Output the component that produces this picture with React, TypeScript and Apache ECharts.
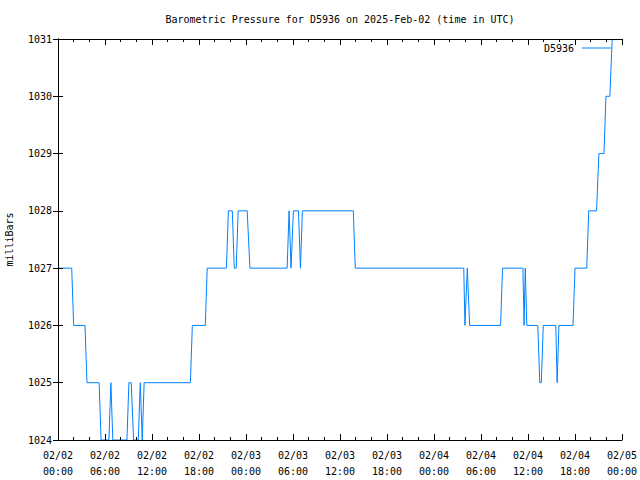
import React, { useEffect, useRef } from "react";
import * as echarts from "echarts";

// Hours since 2025-02-02 00:00 UTC
const hours = [
  0, 1.75, 2.0, 3.45, 3.7, 5.25, 5.5, 6.5, 6.75, 7.0, 8.8, 9.05, 9.35, 9.65,
  10.25, 10.5, 10.75, 11.0, 16.9, 17.15, 18.8, 19.05, 21.5, 21.75, 22.25, 22.5,
  22.75, 23.0, 24.15, 24.5, 29.25, 29.5, 29.75, 30.05, 30.7, 30.95, 31.2, 37.7,
  37.95, 51.8, 51.95, 52.25, 52.55, 56.5, 56.75, 59.35, 59.5, 59.65, 59.85,
  61.25, 61.5, 61.7, 61.95, 63.55, 63.72, 63.95, 65.75, 66.0, 67.5, 67.75,
  68.75, 69.05, 69.7, 69.95, 70.45, 70.75,
];
const pressure = [
  1027, 1027, 1026, 1026, 1025, 1025, 1024, 1024, 1025, 1024, 1024, 1025, 1025,
  1024, 1024, 1025, 1024, 1025, 1025, 1026, 1026, 1027, 1027, 1028, 1028, 1027,
  1027, 1028, 1028, 1027, 1027, 1028, 1027, 1028, 1028, 1027, 1028, 1028, 1027,
  1027, 1026, 1027, 1026, 1026, 1027, 1027, 1026, 1027, 1026, 1026, 1025, 1025,
  1026, 1026, 1025, 1026, 1026, 1027, 1027, 1028, 1028, 1029, 1029, 1030, 1030,
  1031,
];
const xTickLabels = [
  "02/02\n00:00", "02/02\n06:00", "02/02\n12:00", "02/02\n18:00",
  "02/03\n00:00", "02/03\n06:00", "02/03\n12:00", "02/03\n18:00",
  "02/04\n00:00", "02/04\n06:00", "02/04\n12:00", "02/04\n18:00",
  "02/05\n00:00",
];
const seriesName = "D5936";
const titleText = "Barometric Pressure for D5936 on 2025-Feb-02 (time in UTC)";
const yAxisName = "milliBars";

const FONT = "DejaVu Sans Mono";

export default function App() {
  const ref = useRef<HTMLDivElement>(null);
  useEffect(() => {
    if (!ref.current) return;
    const chart = echarts.init(ref.current, null, { renderer: "svg" });
    const data = hours.map((h, i) => [h, pressure[i]]);
    const axisCommon = {
      axisLine: { show: true, lineStyle: { color: "#000", width: 1 } },
      splitLine: { show: false },
      z: 10,
    };
    chart.setOption({
      animation: false,
      backgroundColor: "#fff",
      textStyle: { fontFamily: FONT },
      title: {
        text: titleText,
        left: 340,
        top: 13,
        padding: 0,
        textAlign: "center",
        textStyle: {
          fontFamily: FONT,
          fontSize: 10,
          fontWeight: "normal",
          color: "#000",
          lineHeight: 12,
        },
      },
      legend: {
        data: [seriesName],
        right: 29,
        top: 42,
        align: "right",
        icon: "rect",
        itemWidth: 29,
        itemHeight: 1,
        padding: 0,
        textStyle: {
          fontFamily: FONT,
          fontSize: 10,
          color: "#000",
          lineHeight: 12,
          padding: [0, 3, 0, 0],
        },
      },
      grid: {
        left: 58,
        right: 18,
        top: 39,
        bottom: 40,
        containLabel: false,
        outerBoundsMode: "none",
      },
      xAxis: [
        {
          ...axisCommon,
          type: "value",
          min: 0,
          max: 72,
          interval: 6,
          position: "bottom",
          axisTick: { show: true, inside: true, length: 6, lineStyle: { color: "#000" } },
          minorTick: { show: true, splitNumber: 3, length: 3, lineStyle: { color: "#000" } },
          axisLabel: {
            show: true,
            margin: 7,
            fontFamily: FONT,
            fontSize: 10,
            lineHeight: 16,
            color: "#000",
            formatter: (v: number) => xTickLabels[Math.round(v / 6)] ?? "",
          },
        },
        {
          ...axisCommon,
          type: "value",
          min: 0,
          max: 72,
          interval: 6,
          position: "top",
          axisTick: { show: true, inside: true, length: 6, lineStyle: { color: "#000" } },
          minorTick: { show: true, splitNumber: 3, length: 3, lineStyle: { color: "#000" } },
          axisLabel: { show: false },
        },
      ],
      yAxis: [
        {
          ...axisCommon,
          type: "value",
          min: 1024,
          max: 1031,
          interval: 1,
          position: "left",
          name: yAxisName,
          nameLocation: "middle",
          nameGap: 44,
          nameRotate: 90,
          nameTextStyle: { fontFamily: FONT, fontSize: 10, color: "#000" },
          axisTick: { show: true, inside: true, length: 5, lineStyle: { color: "#000" } },
          axisLabel: {
            show: true,
            margin: 6,
            fontFamily: FONT,
            fontSize: 10,
            color: "#000",
            formatter: (v: number) => String(Math.round(v)),
          },
        },
        {
          ...axisCommon,
          type: "value",
          min: 1024,
          max: 1031,
          interval: 1,
          position: "right",
          axisTick: { show: true, inside: true, length: 5, lineStyle: { color: "#000" } },
          axisLabel: { show: false },
        },
      ],
      series: [
        {
          name: seriesName,
          type: "line",
          xAxisIndex: 0,
          yAxisIndex: 0,
          data,
          showSymbol: false,
          symbol: "none",
          clip: true,
          lineStyle: { color: "#0080ff", width: 1 },
          itemStyle: { color: "#0080ff" },
          z: 2,
        },
      ],
    });
    return () => chart.dispose();
  }, []);
  return (
    <div
      ref={ref}
      style={{ position: "fixed", left: 0, top: 0, width: 640, height: 480, background: "#fff" }}
    />
  );
}
